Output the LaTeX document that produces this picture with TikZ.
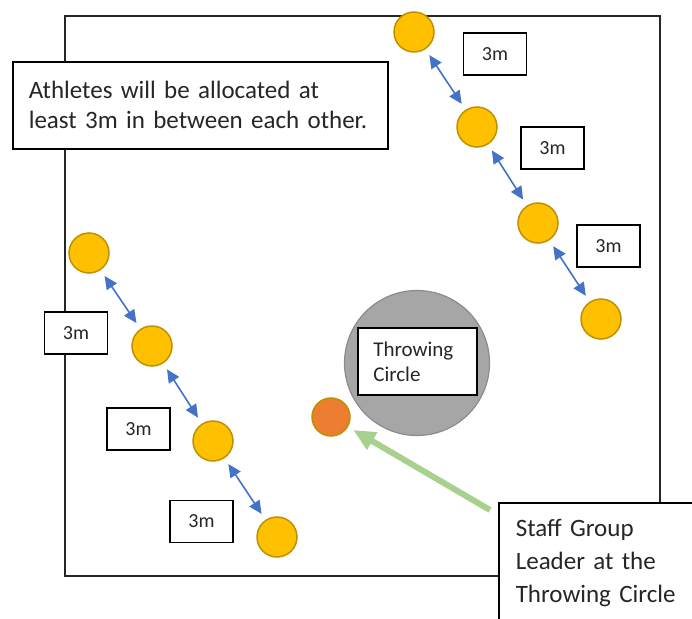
\documentclass[tikz,border=0pt]{standalone}
\usepackage{fontspec}
\setmainfont{Carlito}
\usetikzlibrary{arrows.meta}
\definecolor{athgold}{HTML}{FFC000}
\definecolor{athrim}{HTML}{BF9000}
\definecolor{leadorange}{HTML}{ED7D31}
\definecolor{ringgray}{HTML}{A6A6A6}
\definecolor{ringrim}{HTML}{8C8C8C}
\definecolor{gapblue}{HTML}{4472C4}
\definecolor{pointgreen}{HTML}{A9D18E}
\definecolor{ink}{HTML}{262626}
\tikzstyle{field}=[draw=ink, line width=1.6pt, anchor=north west, inner sep=0pt]
\tikzstyle{ring}=[circle, minimum size=145pt, inner sep=0pt, line width=1.2pt, draw=ringrim, fill=ringgray]
\tikzstyle{athlete}=[circle,
                     minimum size=40pt,
                     inner sep=0pt,
                     line width=1.5pt,
                     draw=athrim,
                     fill=athgold]
\tikzstyle{leader}=[athlete, minimum size=38pt, fill=leadorange]
\tikzstyle{note}=[draw=black, fill=white, line width=1.6pt, text=ink]
\tikzstyle{dist}=[note, minimum width=63pt, minimum height=42pt, inner sep=0pt, font=\fontsize{20}{24}\selectfont]
\tikzstyle{gap}=[{Triangle[length=13pt,width=12pt]}-{Triangle[length=13pt,width=12pt]},
                 line width=1.6pt, color=gapblue, shorten <=7pt, shorten >=7pt]
\tikzstyle{pointer}=[-{Triangle[length=22pt,width=19pt]}, line width=6pt, color=pointgreen, shorten >=6pt]

\begin{document}
\begin{tikzpicture}[x=1pt, y=-1pt]
    \useasboundingbox (0,0) rectangle (692,618);
    \node[field, minimum width=595pt, minimum height=560pt] (field) at (64,15) {};
    \node[ring] (ring) at (417,363) {};
    \node[note, anchor=north west, minimum width=119pt, minimum height=67pt, inner xsep=15.5pt,
          text width=88pt, align=left, font=\fontsize{21}{25}\selectfont] (throw) at (357,327) {Throwing\\Circle};

    \node[athlete] (r1) at (414,32) {};
    \node[athlete] (r2) at (477,127) {};
    \node[athlete] (r3) at (538,223) {};
    \node[athlete] (r4) at (601,319) {};
    \node[athlete] (l1) at (89,253) {};
    \node[athlete] (l2) at (152,346) {};
    \node[athlete] (l3) at (213,441) {};
    \node[athlete] (l4) at (277,537) {};
    \node[leader] (leader) at (331,417) {};

    \path[gap] (r1) edge (r2)
    (r2) edge (r3)
    (r3) edge (r4)
    (l1) edge (l2)
    (l2) edge (l3)
    (l3) edge (l4);

    \node[dist] (rd1) at (495,54) {3m};
    \node[dist] (rd2) at (552.5,148) {3m};
    \node[dist] (rd3) at (608.5,246) {3m};
    \node[dist] (ld1) at (76,333) {3m};
    \node[dist] (ld2) at (138.5,429) {3m};
    \node[dist] (ld3) at (201.5,521.5) {3m};

    \node[note, anchor=north west, minimum width=375pt, minimum height=87pt, inner xsep=16pt,
          text width=343pt, align=left, font=\fontsize{25}{30}\selectfont] (rule) at (12,61)
          {\mbox{Athletes will be allocated at}\\\mbox{least 3m in between each other.}};
    \node[note, anchor=north west, minimum height=120pt, inner xsep=17pt, text width=200pt,
          align=left, font=\fontsize{25}{33}\selectfont] (staff) at (498,502) {Staff Group\\Leader at the\\Throwing Circle};

    \draw[pointer] ([xshift=-8pt,yshift=-8pt]staff.north west) -- (leader);
\end{tikzpicture}
\end{document}
